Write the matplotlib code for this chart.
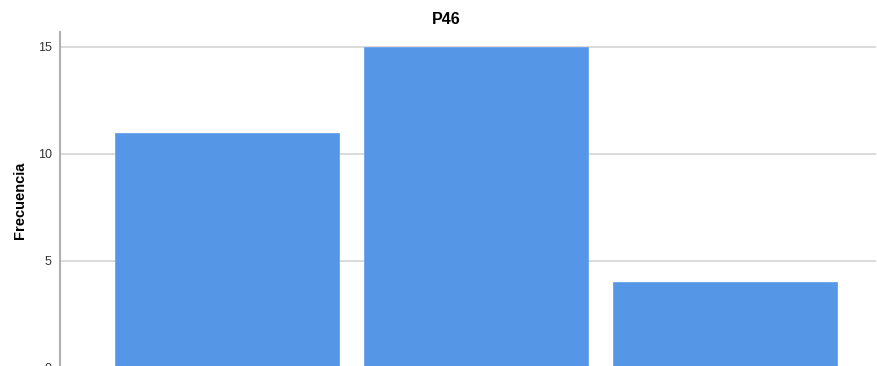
import matplotlib.pyplot as plt

categories = ["1", "2", "3"]
counts = [11, 15, 4]

plt.rcParams['font.family'] = ['Liberation Sans', 'DejaVu Sans']

fig = plt.figure(figsize=(8.78, 3.66), dpi=100)
W, H = 878, 366
# axes region in pixels: left 60, right 876, top 32, bottom 368 (cut off below the image)
left, right, top, bottom = 60, 876, 32, 368
ax = fig.add_axes([left / W, (H - bottom) / H, (right - left) / W, (bottom - top) / H])

x = list(range(len(categories)))
ax.bar(x, counts, width=0.9, color="#5596e6", edgecolor="#6aa3ea", linewidth=0.6,
       zorder=3, label=categories)

ax.set_xlim(-0.67, 2.605)
ax.set_ylim(0, 15.7)
ax.set_yticks([0, 5, 10, 15])
# category labels sit below the visible area in the reference
ax.set_xticks([])
ax.yaxis.grid(True, color="#d4d4d4", linewidth=1.2, zorder=0)

for side in ["top", "right", "bottom"]:
    ax.spines[side].set_visible(False)
ax.spines["left"].set_color("#b0b0b0")
ax.spines["left"].set_linewidth(1.5)
ax.tick_params(axis="y", length=0, pad=6, labelsize=9, labelcolor="#333333")

ax.set_ylabel("Frecuencia", fontsize=10.5, fontweight="bold", labelpad=8)
ax.set_title("P46", fontsize=11.5, fontweight="bold", pad=6, x=0.473)

plt.savefig("out.png", dpi=100)
